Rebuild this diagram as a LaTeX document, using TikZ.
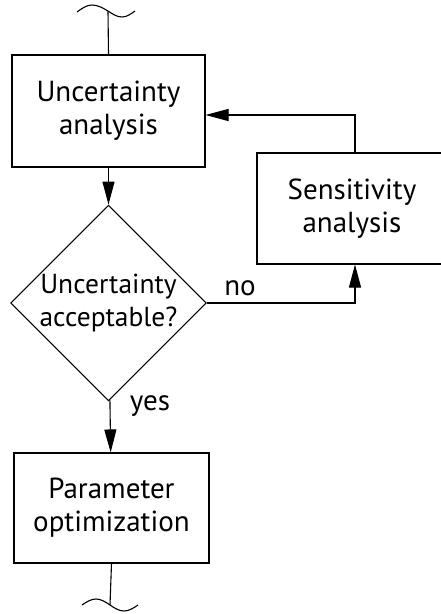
\documentclass[tikz,border=0pt]{standalone}
\usepackage{fontspec}
\setmainfont{PT Sans}
\usetikzlibrary{shapes.geometric,arrows.meta}
\tikzset{
  box/.style={draw, rectangle, align=center, minimum width=193pt, minimum height=112pt,
    font=\fontsize{29}{33}\selectfont},
  choice/.style={draw, diamond, aspect=1, inner sep=0pt, align=center,
    minimum width=191pt, minimum height=189pt, font=\fontsize{27.5}{33}\selectfont},
  tag/.style={font=\fontsize{29}{33}\selectfont},
  flow/.style={-{Triangle[length=23pt,width=12pt]}}
}
\begin{document}
\begin{tikzpicture}[x=1pt, y=-1pt, line width=1.1pt]
    \useasboundingbox (0,0) rectangle (441,614);

    \node[box] (ua) at (108.5,111) {Uncertainty\\analysis};
    \node[choice] (ok) at (108.5,303) {Uncertainty\\acceptable?};
    \node[box, minimum width=195pt, minimum height=110pt] (po) at (111.5,508) {Parameter\\optimization};
    \node[box, minimum width=190pt, minimum height=111pt] (sa) at (352,208.5) {Sensitivity\\analysis};

    \node[tag] (no) at (240,288) {no};
    \node[tag] (yes) at (150,406) {yes};

    % breaks in the flow
    \coordinate (in) at (108,11);
    \coordinate (out) at (110,605);
    \draw (77,12) sin (92,5) cos (108,11) sin (122,17) cos (135,11);
    \draw (82,605) sin (96,599) cos (110,605) sin (124,611) cos (138,605);

    \draw (in) -- (ua.north);
    \draw[flow] (ua) -- (ok);
    \draw[flow] (ok) -- (po);
    \draw (po.south) -- (out);
    \draw[flow] (ok.east) -| ([xshift=3pt]sa.south);
    \draw[flow] ([xshift=3pt]sa.north) |- ([yshift=-4pt]ua.east);
\end{tikzpicture}
\end{document}
